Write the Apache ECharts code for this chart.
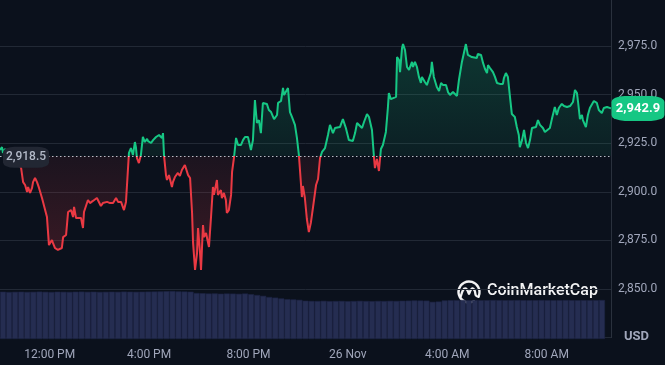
<!DOCTYPE html>
<html>
<head>
<meta charset="utf-8">
<script src="https://cdn.jsdelivr.net/npm/echarts@6/dist/echarts.min.js"></script>
<style>
  html, body { margin: 0; padding: 0; background: #0b111c; }
  #chart { width: 665px; height: 365px; }
</style>
</head>
<body>
<div id="chart"></div>
<script>
// ---- DATA ----
// time in hours since 00:00 on 25 Nov (24 = 26 Nov 00:00)
const times = [
  10.00,10.08,10.12,10.20,10.28,10.48,10.72,10.85,10.93,11.01,11.09,11.13,11.21,11.29,11.33,11.41,11.49,11.57,11.69,11.73,
  11.89,11.97,12.09,12.13,12.21,12.29,12.33,12.41,12.49,12.54,12.66,12.74,12.86,12.94,12.98,13.06,13.14,13.26,13.34,13.38,
  13.46,13.54,13.62,13.74,13.82,13.90,13.98,14.06,14.14,14.31,14.43,14.55,14.67,14.75,14.87,14.99,15.07,15.15,15.19,15.27,
  15.35,15.43,15.47,15.51,15.59,15.67,15.75,15.83,15.92,15.96,16.08,16.16,16.28,16.32,16.40,16.52,16.56,16.60,16.68,16.72,
  16.80,16.92,16.96,17.04,17.12,17.16,17.24,17.32,17.36,17.44,17.52,17.57,17.65,17.73,17.77,17.85,17.93,17.97,18.05,18.09,
  18.17,18.21,18.29,18.33,18.41,18.49,18.57,18.61,18.73,18.77,18.89,18.93,19.01,19.09,19.13,19.21,19.30,19.34,19.42,19.50,
  19.58,19.70,19.78,19.86,19.98,20.10,20.18,20.26,20.34,20.42,20.50,20.58,20.74,20.82,20.91,21.03,21.15,21.19,21.31,21.39,
  21.43,21.51,21.59,21.67,21.75,21.87,21.95,22.03,22.15,22.19,22.27,22.35,22.43,22.51,22.60,22.72,22.80,22.88,22.96,23.08,
  23.20,23.28,23.40,23.48,23.56,23.68,23.80,23.92,24.04,24.20,24.29,24.37,24.45,24.57,24.65,24.77,24.85,24.97,25.05,25.09,
  25.17,25.25,25.33,25.41,25.53,25.61,25.65,25.73,25.81,25.94,25.98,26.06,26.10,26.18,26.22,26.30,26.38,26.46,26.58,26.62,
  26.70,26.78,26.86,26.94,26.98,27.10,27.18,27.26,27.34,27.38,27.46,27.58,27.67,27.75,27.83,27.95,28.03,28.11,28.23,28.31,
  28.39,28.47,28.59,28.67,28.75,28.83,28.87,28.99,29.07,29.19,29.23,29.36,29.44,29.52,29.60,29.64,29.72,29.84,29.92,30.00,
  30.12,30.24,30.28,30.36,30.44,30.52,30.60,30.72,30.80,30.88,30.92,31.01,31.09,31.17,31.25,31.33,31.41,31.49,31.57,31.65,
  31.73,31.85,31.93,32.01,32.13,32.21,32.25,32.33,32.41,32.49,32.61,32.70,32.82,32.94,33.06,33.14,33.22,33.26,33.34,33.42,
  33.46,33.58,33.66,33.74,33.82,33.90,34.02,34.10,34.22,34.30,34.43,34.59
];
// ETH price, USD
const prices = [
  2921.5,2923.0,2920.0,2922.0,2920.5,2918.4,2915.3,2912.2,2905.0,2903.5,2899.9,2902.5,2899.4,2902.0,2905.0,2907.1,2905.0,2902.0,2896.8,2897.3,
  2887.0,2872.6,2875.2,2873.7,2871.1,2872.1,2870.1,2871.1,2871.1,2876.7,2877.8,2889.6,2890.6,2887.0,2892.2,2886.5,2887.0,2886.5,2881.4,2889.6,
  2890.6,2895.8,2894.2,2895.3,2895.8,2896.8,2897.8,2892.7,2894.2,2894.8,2894.2,2894.2,2896.8,2894.8,2894.8,2890.6,2894.8,2895.8,2920.0,2922.5,
  2918.9,2925.6,2923.0,2917.4,2914.8,2918.9,2928.2,2925.6,2927.2,2926.1,2925.1,2926.6,2928.2,2927.2,2929.2,2927.7,2930.2,2918.9,2908.6,2906.1,
  2908.6,2902.5,2905.0,2907.6,2906.6,2909.7,2908.1,2911.2,2912.2,2913.8,2912.8,2908.6,2907.1,2889.1,2873.7,2859.8,2868.5,2881.4,2868.5,2859.8,
  2882.9,2876.7,2878.8,2877.8,2871.6,2886.5,2902.5,2898.4,2906.1,2898.4,2900.9,2896.8,2899.4,2895.8,2889.1,2890.6,2898.4,2910.2,2917.9,2927.7,
  2924.1,2924.1,2926.6,2928.2,2928.2,2921.5,2926.6,2947.2,2935.4,2936.9,2930.2,2945.7,2945.2,2942.1,2941.0,2937.4,2939.5,2945.7,2946.7,2953.4,
  2949.8,2949.3,2953.4,2941.0,2938.5,2934.4,2927.7,2918.9,2897.3,2903.0,2896.8,2886.0,2879.3,2884.0,2892.2,2903.5,2906.6,2917.4,2920.5,2922.5,
  2929.2,2934.4,2930.2,2932.8,2931.8,2933.3,2937.4,2932.8,2926.6,2926.1,2930.2,2935.4,2936.4,2932.8,2935.9,2940.0,2938.5,2931.8,2917.9,2912.2,
  2916.9,2910.7,2922.0,2924.1,2930.8,2943.1,2950.8,2947.7,2947.2,2948.8,2969.3,2967.8,2961.6,2974.0,2976.0,2972.9,2964.2,2962.7,2966.8,2964.2,
  2966.8,2964.2,2959.1,2956.0,2959.1,2956.5,2954.9,2954.4,2961.1,2966.8,2959.1,2953.9,2951.9,2956.0,2954.9,2954.9,2951.3,2949.8,2951.3,2951.3,
  2949.3,2957.5,2966.8,2971.4,2976.0,2970.4,2970.9,2969.3,2969.3,2968.8,2970.9,2970.4,2966.3,2963.2,2961.1,2965.2,2963.7,2961.6,2959.1,2956.0,
  2955.5,2955.5,2958.5,2961.1,2959.1,2949.3,2940.0,2938.5,2933.3,2929.2,2923.0,2926.6,2931.8,2925.1,2922.5,2926.6,2932.8,2933.3,2933.3,2936.9,
  2934.4,2932.8,2930.8,2930.8,2932.8,2937.4,2936.9,2943.6,2939.5,2943.1,2945.2,2944.1,2943.6,2944.1,2946.2,2952.4,2950.8,2946.7,2937.4,2939.5,
  2936.9,2933.3,2939.5,2943.1,2942.1,2946.7,2945.7,2942.1,2940.5,2943.1,2943.6,2942.9
];
// opening (reference) price of the period
const basePrice = 2918.5;
// volume bars (relative height units), ~15 min each across the period
const volumes = [
  47.3,47.0,47.2,47.3,47.1,47.2,47.4,47.2,47.0,47.3,47.2,47.1,47.3,47.4,47.2,47.3,47.1,47.2,47.3,47.2,47.4,47.3,47.2,47.3,47.4,
  47.5,47.6,47.8,48.0,47.6,47.5,47.3,
  46.0,45.8,45.5,45.6,45.3,45.5,45.4,45.2,45.5,44.8,
  44.0,43.2,
  42.0,41.4,40.6,
  39.8,39.6,39.2,
  38.3,38.1,38.0,38.2,37.9,38.0,38.1,37.8,38.0,38.2,38.0,37.9,38.1,38.0,38.2,38.1,38.3,38.4,
  38.6,38.5,38.4,
  37.2,37.5,
  38.6,38.8,38.9,39.0,38.9,39.0,38.8,38.9,39.0,38.9,38.8,38.9,39.0,38.9,38.8,38.9,39.0,38.9,38.8,38.9,39.0,38.9,38.8,38.9,38.8,38.9,39.0
];
// axis ticks
const xTickHours = [12, 16, 20, 24, 28, 32];
const xTickLabels = ['12:00 PM', '4:00 PM', '8:00 PM', '26 Nov', '4:00 AM', '8:00 AM'];
const yTickValues = [2850, 2875, 2900, 2925, 2950, 2975];
const yTickLabels = ['2,850.0', '2,875.0', '2,900.0', '2,925.0', '2,950.0', '2,975.0'];

// ---- CHART ----
const GREEN = '#16c784', RED = '#ea3943', LABEL = '#a1a7bb', GRID = '#222935';
const fmt = v => v.toLocaleString('en-US', { minimumFractionDigits: 1, maximumFractionDigits: 1 });
const priceData = times.map((t, i) => [t, prices[i]]);
const pMax = Math.max(...prices), pMin = Math.min(...prices);
const split = (pMax - basePrice) / (pMax - pMin);
const last = priceData.length - 1;

const chart = echarts.init(document.getElementById('chart'), null, { renderer: 'canvas' });
chart.setOption({
  animation: false,
  backgroundColor: '#0b111c',
  textStyle: { fontFamily: 'Roboto, "Liberation Sans", sans-serif' },
  grid: [
    { left: 0, right: 54, top: -2.6, height: 340.2, containLabel: false, outerBoundsMode: 'none' },
    { left: 0, width: 605, top: 289, height: 50, containLabel: false, outerBoundsMode: 'none' }
  ],
  xAxis: [
    {
      type: 'value', gridIndex: 0, min: times[0], max: times[last],
      axisLine: { show: false }, axisTick: { show: false }, splitLine: { show: false },
      axisLabel: {
        customValues: xTickHours, color: LABEL, fontSize: 12, margin: 11,
        formatter: v => { const i = xTickHours.indexOf(v); return i >= 0 ? xTickLabels[i] : ''; }
      }
    },
    {
      type: 'category', gridIndex: 1, data: volumes.map((_, i) => i), boundaryGap: true,
      show: false
    }
  ],
  yAxis: [
    {
      type: 'value', gridIndex: 0, position: 'right', min: 2825, max: 3000, interval: 25,
      axisLine: { show: true, lineStyle: { color: '#2a313d', width: 1 } },
      axisTick: { show: false },
      splitLine: { show: true, lineStyle: { color: GRID, width: 1 } },
      axisLabel: {
        color: LABEL, fontSize: 12, margin: 7, showMinLabel: false, showMaxLabel: false,
        formatter: v => { const i = yTickValues.indexOf(v); return i >= 0 ? yTickLabels[i] : ''; }
      }
    },
    { type: 'value', gridIndex: 1, min: 0, max: 50, show: false }
  ],
  visualMap: {
    type: 'piecewise', show: false, seriesIndex: 1, dimension: 1,
    pieces: [
      { gte: 0, lt: basePrice, color: RED },
      { gte: basePrice, lte: 100000, color: GREEN }
    ]
  },
  series: [
    {
      type: 'bar', xAxisIndex: 1, yAxisIndex: 1, data: volumes, barCategoryGap: '0%',
      itemStyle: { color: '#252d51', borderColor: '#1d2443', borderWidth: 0.6 },
      silent: true
    },
    {
      type: 'line', xAxisIndex: 0, yAxisIndex: 0, data: priceData,
      showSymbol: false, clip: false, silent: true,
      lineStyle: { width: 2 },
      areaStyle: {
        origin: basePrice,
        color: new echarts.graphic.LinearGradient(0, 0, 0, 1, [
          { offset: 0, color: 'rgba(22,199,132,0.30)' },
          { offset: split, color: 'rgba(22,199,132,0.11)' },
          { offset: split, color: 'rgba(234,57,67,0.10)' },
          { offset: 1, color: 'rgba(234,57,67,0.32)' }
        ])
      },
      markLine: {
        silent: true, symbol: 'none', z: 4,
        label: { show: false },
        lineStyle: { color: 'rgba(225,230,240,0.8)', width: 1, type: [1.5, 2.5] },
        data: [{ yAxis: basePrice }]
      },
      markPoint: {
        silent: true, z: 10,
        data: [
          {
            coord: [times[0], basePrice], symbol: 'roundRect', symbolSize: [46, 21], symbolOffset: [26, 1.5],
            itemStyle: { color: '#222733' },
            label: { show: true, formatter: fmt(basePrice), color: '#b3bac8', fontSize: 12, fontWeight: 500 }
          },
          {
            coord: priceData[last], symbol: 'roundRect', symbolSize: [53, 25], symbolOffset: [27, 0],
            itemStyle: { color: GREEN },
            label: { show: true, formatter: fmt(prices[last]), color: '#ffffff', fontSize: 13, fontWeight: 'bold' }
          }
        ]
      }
    }
  ],
  graphic: [
    {
      type: 'text', left: 624, top: 330, silent: true,
      style: { text: 'USD', fill: LABEL, font: 'bold 13px Roboto, sans-serif' }
    },
    {
      type: 'group', silent: true, left: 456, top: 279,
      children: [
        { type: 'arc', shape: { cx: 12.3, cy: 11.7, r: 10.5, startAngle: 62 * Math.PI / 180, endAngle: 382 * Math.PI / 180, clockwise: true },
          style: { fill: 'none', stroke: 'rgba(255,255,255,0.95)', lineWidth: 2.4, lineCap: 'round' } },
        { type: 'polyline', shape: { smooth: 0.35, points: [[4.2, 15.8], [6.2, 10], [8.6, 8.2], [10.8, 10], [12.3, 13.6], [13.8, 10], [15.9, 8.2], [18, 10.5], [19.2, 15.2], [21.8, 16.6]] },
          style: { fill: 'none', stroke: 'rgba(255,255,255,0.95)', lineWidth: 2.3, lineJoin: 'round', lineCap: 'round' } }
      ]
    },
    {
      type: 'text', left: 487, top: 283, silent: true,
      style: { text: 'CoinMarketCap', fill: 'rgba(255,255,255,0.95)', font: '500 16px Roboto, sans-serif' }
    }
  ]
});
</script>
</body>
</html>
